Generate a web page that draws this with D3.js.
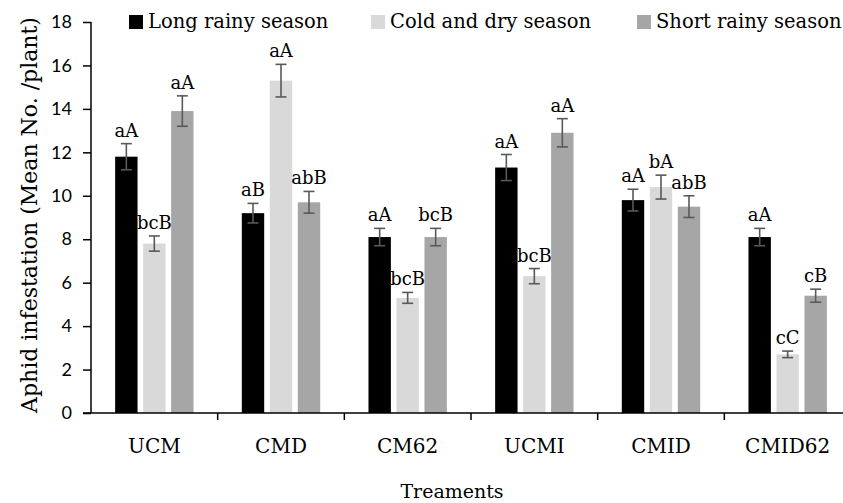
<!DOCTYPE html>
<html>
<head>
<meta charset="utf-8">
<script src="https://d3js.org/d3.v7.min.js"></script>
<style>
  body { margin: 0; background: #fff; }
  svg { display: block; }
</style>
</head>
<body>
<script>
// treatments and seasons
var treatments = ["UCM", "CMD", "CM62", "UCMI", "CMID", "CMID62"];
var seasons = ["Long rainy season", "Cold and dry season", "Short rainy season"];
var colors = ["#000000", "#d9d9d9", "#a6a6a6"];

// mean aphids per plant, one array per season
var longRainy  = [11.8, 9.2, 8.1, 11.3, 9.8, 8.1];
var coldDry    = [7.8, 15.3, 5.3, 6.3, 10.4, 2.7];
var shortRainy = [13.9, 9.7, 8.1, 12.9, 9.5, 5.4];

// standard errors
var errLong  = [0.6, 0.45, 0.4, 0.6, 0.5, 0.4];
var errCold  = [0.35, 0.75, 0.25, 0.35, 0.55, 0.15];
var errShort = [0.7, 0.5, 0.4, 0.65, 0.5, 0.3];

// significance letters
var lblLong  = ["aA", "aB", "aA", "aA", "aA", "aA"];
var lblCold  = ["bcB", "aA", "bcB", "bcB", "bA", "cC"];
var lblShort = ["aA", "abB", "bcB", "aA", "abB", "cB"];

var yTicks = [0, 2, 4, 6, 8, 10, 12, 14, 16, 18];

var W = 843, H = 503;
var serif = "DejaVu Serif, serif";
var svg = d3.select("body").append("svg").attr("width", W).attr("height", H);

var x0 = d3.scaleBand().domain(treatments).range([91, 851]).paddingInner(0.337).paddingOuter(0.1685);
var x1 = d3.scaleBand().domain(d3.range(3)).range([0, x0.bandwidth()]).paddingInner(0.2).paddingOuter(0.1);
var y = d3.scaleLinear().domain([0, 18]).range([413, 22]);

var series = [
  {vals: longRainy, errs: errLong, lbls: lblLong},
  {vals: coldDry, errs: errCold, lbls: lblCold},
  {vals: shortRainy, errs: errShort, lbls: lblShort}
];

var rows = [];
treatments.forEach(function(t, i){
  series.forEach(function(s, k){
    rows.push({t: t, k: k, v: s.vals[i], e: s.errs[i], l: s.lbls[i]});
  });
});

// bars
svg.append("g").selectAll("rect").data(rows).enter().append("rect")
  .attr("x", function(d){ return x0(d.t) + x1(d.k); })
  .attr("y", function(d){ return y(d.v); })
  .attr("width", x1.bandwidth())
  .attr("height", function(d){ return y(0) - y(d.v); })
  .attr("fill", function(d){ return colors[d.k]; });

// error bars
var eb = svg.append("g").attr("stroke", "#595959").attr("stroke-width", 1.6);
rows.forEach(function(d){
  var cx = x0(d.t) + x1(d.k) + x1.bandwidth() / 2;
  eb.append("line").attr("x1", cx).attr("x2", cx).attr("y1", y(d.v + d.e)).attr("y2", y(d.v - d.e));
  eb.append("line").attr("x1", cx - 5.5).attr("x2", cx + 5.5).attr("y1", y(d.v + d.e)).attr("y2", y(d.v + d.e));
  eb.append("line").attr("x1", cx - 5.5).attr("x2", cx + 5.5).attr("y1", y(d.v - d.e)).attr("y2", y(d.v - d.e));
});

// letters
svg.append("g").selectAll("text").data(rows).enter().append("text")
  .attr("x", function(d){ return x0(d.t) + x1(d.k) + x1.bandwidth() / 2; })
  .attr("y", function(d){ return y(d.v + d.e) - 7; })
  .attr("text-anchor", "middle")
  .attr("font-family", serif)
  .attr("font-size", 18)
  .text(function(d){ return d.l; });

// y axis
var yAxis = svg.append("g").attr("transform", "translate(91,0)")
  .call(d3.axisLeft(y).tickValues(yTicks).tickSize(8).tickPadding(11));
yAxis.selectAll("text").attr("font-family", "Lato, sans-serif").attr("font-size", 18).attr("fill", "#000");
yAxis.selectAll("line, path").attr("stroke", "#000").attr("stroke-width", 1.5);
yAxis.select(".domain").attr("d", "M0," + y(18) + "V" + y(0));

// x axis
var xAxis = svg.append("g").attr("transform", "translate(0," + y(0) + ")")
  .call(d3.axisBottom(x0).tickSize(0).tickPadding(26));
xAxis.select(".domain").attr("d", "M83,0H851").attr("stroke", "#000").attr("stroke-width", 1.5);
xAxis.selectAll("text").attr("font-family", serif).attr("font-size", 20).attr("fill", "#000");
// category dividers
var step = x0.step();
svg.append("g").selectAll("line").data(d3.range(1, treatments.length + 1)).enter().append("line")
  .attr("x1", function(i){ return 91 + i * step; })
  .attr("x2", function(i){ return 91 + i * step; })
  .attr("y1", y(0)).attr("y2", y(0) + 7)
  .attr("stroke", "#000").attr("stroke-width", 1.5);

// axis titles
svg.append("text")
  .attr("transform", "translate(37,215) rotate(-90)")
  .attr("text-anchor", "middle")
  .attr("font-family", serif)
  .attr("font-size", 22)
  .text("Aphid infestation (Mean No. /plant)");

svg.append("text")
  .attr("x", 452).attr("y", 498)
  .attr("text-anchor", "middle")
  .attr("font-family", serif)
  .attr("font-size", 19)
  .text("Treaments");

// legend
var legX = [129, 371, 637];
var leg = svg.append("g");
seasons.forEach(function(s, k){
  leg.append("rect").attr("x", legX[k]).attr("y", 15).attr("width", 14).attr("height", 14).attr("fill", colors[k]);
  leg.append("text").attr("x", legX[k] + 19).attr("y", 28)
    .attr("font-family", serif).attr("font-size", 19.5)
    .text(s);
});
</script>
</body>
</html>
